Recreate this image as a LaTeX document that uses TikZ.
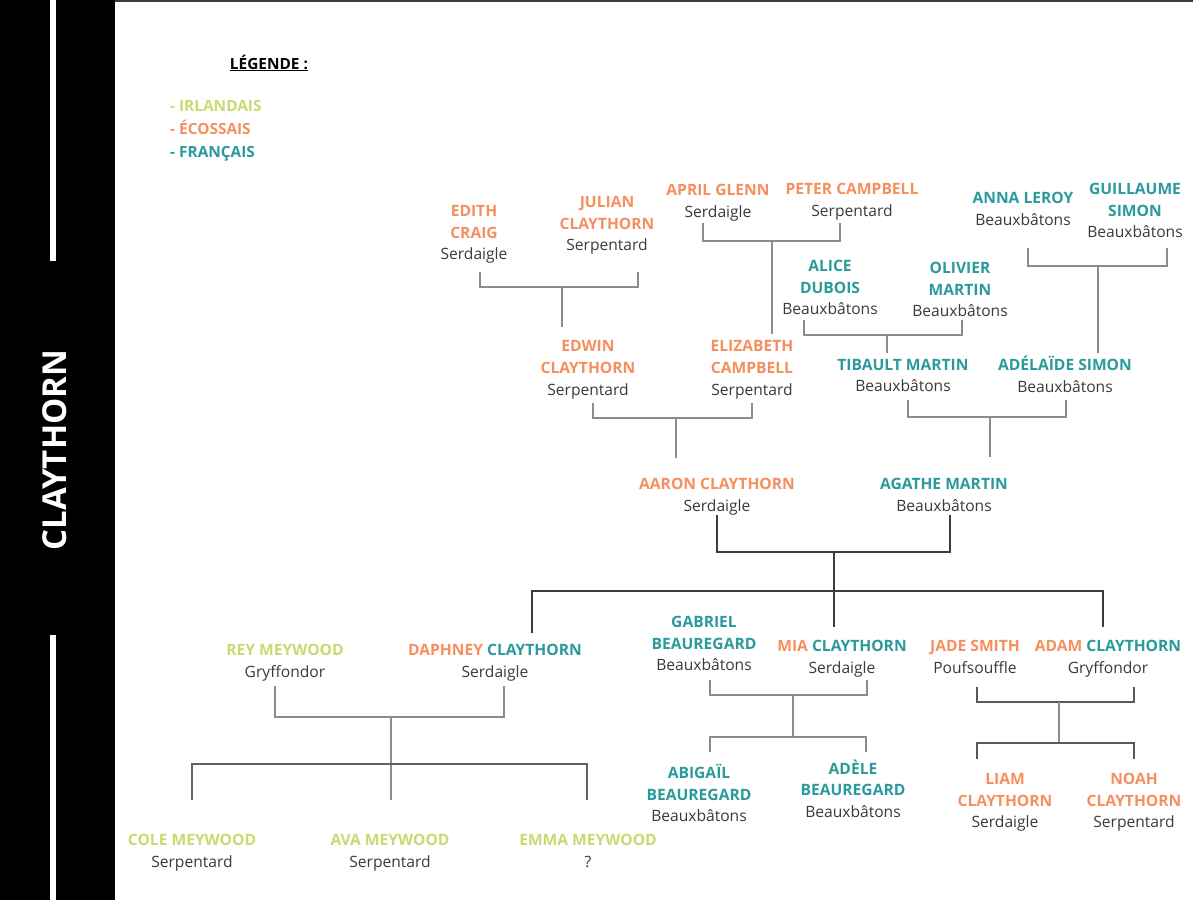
\documentclass[tikz,border=0pt]{standalone}
\usepackage{fontspec}
\setmainfont{Open Sans}
\definecolor{irl}{HTML}{C6DC70}
\definecolor{eco}{HTML}{F68F5E}
\definecolor{fra}{HTML}{2A9A9C}
\definecolor{txt}{HTML}{3A3A3A}
\definecolor{lnk}{HTML}{8C8C8C}
\definecolor{lnkdark}{HTML}{3C3C3C}
\newcommand{\IrN}[1]{\textcolor{irl}{\bfseries #1}}
\newcommand{\EcN}[1]{\textcolor{eco}{\bfseries #1}}
\newcommand{\FrN}[1]{\textcolor{fra}{\bfseries #1}}
\tikzset{
  person/.style={align=center, inner sep=0pt, text=txt, font=\fontsize{15.6}{21.7}\selectfont, text depth=4pt, yshift=-3pt},
  link/.style={draw=lnk, line width=1.4pt},
  linkdark/.style={draw=lnkdark, line width=1.8pt},
  legitem/.style={anchor=base west, inner sep=0pt, font=\bfseries\fontsize{15.4}{18}\selectfont}
}
\begin{document}
\begin{tikzpicture}[x=1pt, y=-1pt]
\useasboundingbox (0,0) rectangle (1193,900);
\fill[white] (0,0) rectangle (1193,900);
% left band
\fill[black] (0,0) rectangle (115,900);
\fill[white] (50,0) rectangle (56,261);
\fill[white] (50,635) rectangle (56,900);
\draw[lnkdark, line width=1.5pt] (115,0.75) -- (1193,0.75);
\node[rotate=90, text=white, inner sep=0pt, font=\bfseries\fontsize{33}{33}\selectfont] (title) at (55,450) {CLAYTHORN};
% legend
\node[anchor=base, inner sep=0pt, font=\bfseries\fontsize{15.4}{18}\selectfont, text=black] (leg) at (269,69) {\underline{LÉGENDE :}};
\node[legitem, text=irl] (lirl) at (170,111.5) {- IRLANDAIS};
\node[legitem, text=eco] (leco) at (170,134.5) {- ÉCOSSAIS};
\node[legitem, text=fra] (lfra) at (170,157.5) {- FRANÇAIS};
% persons
\node[person] (edith) at (474,231.5) {\EcN{EDITH}\\\EcN{CRAIG}\\Serdaigle};
\node[person] (julian) at (607,222.5) {\EcN{JULIAN}\\\EcN{CLAYTHORN}\\Serpentard};
\node[person] (april) at (718,199.5) {\EcN{APRIL GLENN}\\Serdaigle};
\node[person] (peter) at (852,199) {\EcN{PETER CAMPBELL}\\Serpentard};
\node[person] (anna) at (1023,207.5) {\FrN{ANNA LEROY}\\Beauxbâtons};
\node[person] (guillaume) at (1135,209.5) {\FrN{GUILLAUME}\\\FrN{SIMON}\\Beauxbâtons};
\node[person] (alice) at (830,286.5) {\FrN{ALICE}\\\FrN{DUBOIS}\\Beauxbâtons};
\node[person] (olivier) at (960,288.5) {\FrN{OLIVIER}\\\FrN{MARTIN}\\Beauxbâtons};
\node[person] (edwin) at (588,367) {\EcN{EDWIN}\\\EcN{CLAYTHORN}\\Serpentard};
\node[person] (elizabeth) at (752,367) {\EcN{ELIZABETH}\\\EcN{CAMPBELL}\\Serpentard};
\node[person] (tibault) at (903,374.5) {\FrN{TIBAULT MARTIN}\\Beauxbâtons};
\node[person] (adelaide) at (1065,373.5) {\FrN{ADÉLAÏDE SIMON}\\Beauxbâtons};
\node[person] (aaron) at (717,494) {\EcN{AARON CLAYTHORN}\\Serdaigle};
\node[person] (agathe) at (944,494) {\FrN{AGATHE MARTIN}\\Beauxbâtons};
\node[person] (rey) at (285,660) {\IrN{REY MEYWOOD}\\Gryffondor};
\node[person] (daphney) at (495,660) {\EcN{DAPHNEY} \FrN{CLAYTHORN}\\Serdaigle};
\node[person] (gabriel) at (704,642.5) {\FrN{GABRIEL}\\\FrN{BEAUREGARD}\\Beauxbâtons};
\node[person] (mia) at (842,655.5) {\EcN{MIA} \FrN{CLAYTHORN}\\Serdaigle};
\node[person] (jade) at (975,655.5) {\EcN{JADE SMITH}\\Poufsouffle};
\node[person] (adam) at (1108,655.5) {\EcN{ADAM} \FrN{CLAYTHORN}\\Gryffondor};
\node[person] (cole) at (192,849.5) {\IrN{COLE MEYWOOD}\\Serpentard};
\node[person] (ava) at (390,849.5) {\IrN{AVA MEYWOOD}\\Serpentard};
\node[person] (emma) at (588,849.5) {\IrN{EMMA MEYWOOD}\\?};
\node[person] (abigail) at (699,792) {\FrN{ABIGAÏL}\\\FrN{BEAUREGARD}\\Beauxbâtons};
\node[person] (adele) at (853,787.5) {\FrN{ADÈLE}\\\FrN{BEAUREGARD}\\Beauxbâtons};
\node[person] (liam) at (1005,799.5) {\EcN{LIAM}\\\EcN{CLAYTHORN}\\Serdaigle};
\node[person] (noah) at (1134,799.5) {\EcN{NOAH}\\\EcN{CLAYTHORN}\\Serpentard};
% bracket coordinates
\coordinate (aL) at (480,272); \coordinate (aR) at (638,272); \coordinate (aM) at (562,287); \coordinate (aC) at (562,327);
\coordinate (bL) at (703,223); \coordinate (bR) at (840,223); \coordinate (bM) at (772,241); \coordinate (bC) at (772,334);
\coordinate (cL) at (804,320); \coordinate (cR) at (962,320); \coordinate (cM) at (887,335); \coordinate (cC) at (887,353);
\coordinate (dL) at (1028,248); \coordinate (dR) at (1167,248); \coordinate (dM) at (1098,266); \coordinate (dC) at (1098,353);
\coordinate (eL) at (593,403); \coordinate (eR) at (752,403); \coordinate (eM) at (676,418); \coordinate (eC) at (676,458);
\coordinate (fL) at (908,400); \coordinate (fR) at (1066,400); \coordinate (fM) at (990,417); \coordinate (fC) at (990,457);
\coordinate (gL) at (717,515); \coordinate (gR) at (950,515); \coordinate (gM) at (834,552); \coordinate (gC) at (834,627);
\coordinate (gK1) at (532,633); \coordinate (gK2) at (1103,627); \coordinate (gH) at (834,591);
\coordinate (hL) at (275,686); \coordinate (hR) at (504,686); \coordinate (hM) at (391,717); \coordinate (hC) at (391,800);
\coordinate (hK1) at (192,800); \coordinate (hK2) at (587,800); \coordinate (hH) at (391,764);
\coordinate (iL) at (710,680); \coordinate (iR) at (867,680); \coordinate (iM) at (793,695); \coordinate (iH) at (793,737);
\coordinate (iK1) at (710,752); \coordinate (iK2) at (866,752);
\coordinate (jL) at (977,687); \coordinate (jR) at (1134,687); \coordinate (jM) at (1059,702); \coordinate (jH) at (1059,743);
\coordinate (jK1) at (977,759); \coordinate (jK2) at (1134,759);
% connectors
\draw[link] (aL) |- (aM) -| (aR); \draw[link] (aM) -- (aC);
\draw[link] (bL) |- (bM) -| (bR); \draw[link] (bM) -- (bC);
\draw[link] (cL) |- (cM) -| (cR); \draw[link] (cM) -- (cC);
\draw[link] (dL) |- (dM) -| (dR); \draw[link] (dM) -- (dC);
\draw[link] (eL) |- (eM) -| (eR); \draw[link] (eM) -- (eC);
\draw[link] (fL) |- (fM) -| (fR); \draw[link] (fM) -- (fC);
\draw[linkdark] (gL) |- (gM) -| (gR); \draw[linkdark] (gM) -- (gC);
\draw[linkdark] (gK1) |- (gH) -| (gK2);
\draw[link] (hL) |- (hM) -| (hR); \draw[link] (hM) -- (hC);
\draw[link, draw=lnkdark!80] (hK1) |- (hH) -| (hK2);
\draw[link] (iL) |- (iM) -| (iR); \draw[link] (iM) -- (iH);
\draw[link] (iK1) |- (iH) -| (iK2);
\draw[link, draw=lnkdark!85] (jL) |- (jM) -| (jR); \draw[link] (jM) -- (jH);
\draw[link, draw=lnkdark!85] (jK1) |- (jH) -| (jK2);
\end{tikzpicture}
\end{document}
